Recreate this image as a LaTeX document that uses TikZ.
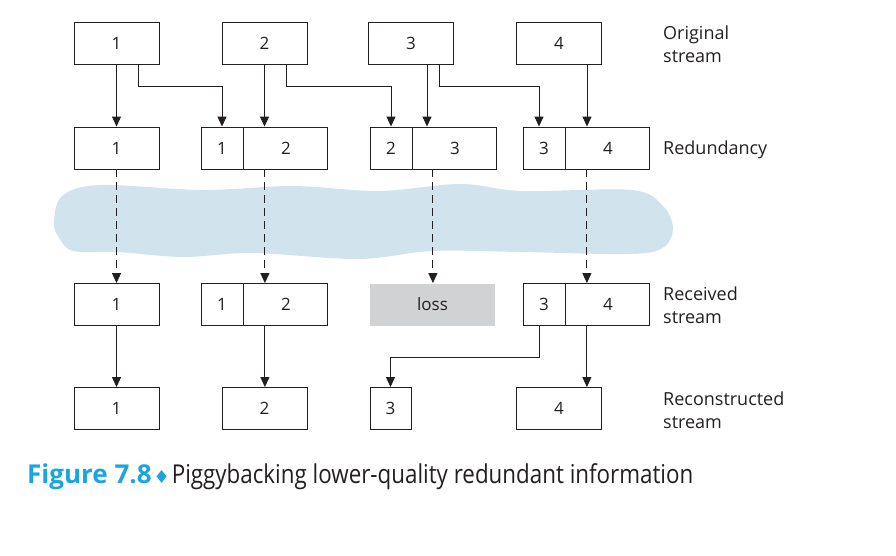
\documentclass[tikz,border=0pt]{standalone}
\usepackage{fontspec}
\setmainfont{Open Sans}
\newfontfamily\capfont[FakeStretch=0.86]{Open Sans}
\newfontfamily\figfont{Open Sans}
\newfontfamily\symfont{DejaVu Sans}
\usetikzlibrary{arrows.meta}
\definecolor{cloudblue}{HTML}{D1E3EC}
\definecolor{lossgray}{HTML}{D1D2D4}
\definecolor{figcyan}{HTML}{1BA5E0}
\definecolor{ink}{HTML}{231F20}
\begin{document}
\begin{tikzpicture}[x=1pt,y=-1pt,
  box/.style={draw=ink, line width=0.9pt, minimum height=42pt, inner sep=0pt,
    font=\fontsize{17}{20}\selectfont, text=ink},
  wide/.style={box, minimum width=85pt},
  half/.style={box, minimum width=84pt},
  small/.style={box, minimum width=42pt},
  lossbox/.style={box, draw=none, fill=lossgray, minimum width=125pt},
  arr/.style={draw=ink, line width=0.9pt, -{Triangle[length=10pt,width=9pt]}},
  darr/.style={arr, dash pattern=on 8pt off 5pt},
  lbl/.style={anchor=west, align=left, inner sep=0pt, text=ink,
    font=\fontsize{18}{23}\selectfont}
]
\useasboundingbox (0,0) rectangle (896,555);

% cloud
\fill[cloudblue] plot[smooth cycle, tension=0.55] coordinates {
  (54,222) (62,196) (100,185) (203,190) (293,186) (379,191) (460,184)
  (522,191) (632,190) (663,206) (673,228) (664,247) (632,254) (522,252)
  (432,251) (358,259) (252,253) (183,257) (117,252) (73,251) (58,236)};

% original stream
\node[wide] (o1) at (116.5,43) {1};
\node[wide] (o2) at (264.5,43) {2};
\node[wide] (o3) at (411,43) {3};
\node[wide] (o4) at (559,43) {4};

% redundancy
\node[wide] (r1) at (116.5,148) {1};
\node[small] (r2a) at (222,148) {1};
\node[half, anchor=west] (r2b) at (r2a.east) {2};
\node[small] (r3a) at (391,148) {2};
\node[half, anchor=west] (r3b) at (r3a.east) {3};
\node[small] (r4a) at (544,148) {3};
\node[half, anchor=west] (r4b) at (r4a.east) {4};

% received
\node[wide] (v1) at (116.5,304.5) {1};
\node[small] (v2a) at (222,304.5) {1};
\node[half, anchor=west] (v2b) at (v2a.east) {2};
\node[lossbox] (loss) at (432.5,304.5) {loss};
\node[small] (v4a) at (544,304.5) {3};
\node[half, anchor=west] (v4b) at (v4a.east) {4};

% reconstructed
\node[wide] (c1) at (116.5,408.5) {1};
\node[wide] (c2) at (264.5,408.5) {2};
\node[box, minimum width=41pt] (c3) at (390.5,408.5) {3};
\node[wide] (c4) at (559,408.5) {4};

% original -> redundancy
\draw[arr] (o1.south) -- (o1.south |- r1.north);
\draw[arr] ([xshift=21.5pt]o1.south) -- ++(0,22) -| (r2a.north);
\draw[arr] (o2.south) -- (o2.south |- r2b.north);
\draw[arr] ([xshift=21.5pt]o2.south) -- ++(0,22) -| (r3a.north);
\draw[arr] ([xshift=16pt]o3.south) -- ([xshift=16pt]o3.south |- r3b.north);
\draw[arr] ([xshift=28pt]o3.south) -- ++(0,22) -| ([xshift=-5pt]r4a.north);
\draw[arr] ([xshift=28pt]o4.south) -- ([xshift=28pt]o4.south |- r4b.north);

% network (dashed)
\draw[darr] (r1.south) -- (r1.south |- v1.north);
\draw[darr] ([xshift=-21pt]r2b.south) -- ([xshift=-21pt]r2b.south |- v2b.north);
\draw[darr] ([xshift=-22pt]r3b.south) -- ([xshift=-22pt]r3b.south |- loss.north);
\draw[darr] ([xshift=-21pt]r4b.south) -- ([xshift=-21pt]r4b.south |- v4b.north);

% received -> reconstructed
\draw[arr] (v1.south) -- (v1.south |- c1.north);
\draw[arr] ([xshift=-21pt]v2b.south) -- ([xshift=-21pt]v2b.south |- c2.north);
\draw[arr] ([xshift=-5pt]v4a.south) -- ++(0,31) -| (c3.north);
\draw[arr] ([xshift=-21pt]v4b.south) -- ([xshift=-21pt]v4b.south |- c4.north);

% labels
\node[lbl] (l1) at (663,44.5) {Original\\stream};
\node[lbl] (l2) at (663,150) {Redundancy};
\node[lbl] (l3) at (663,305.5) {Received\\stream};
\node[lbl] (l4) at (663,410.5) {Reconstructed\\stream};

% caption
\node[anchor=west, inner sep=0pt, font=\fontsize{26}{30}\selectfont] (cap) at (27,477)
  {{\figfont\bfseries\color{figcyan}Figure 7.8}\hspace{2pt}{\color{figcyan}\symfont\fontsize{18}{20}\selectfont\char"2666}\hspace{2pt}{\capfont\color{ink}Piggybacking lower-quality redundant information}};
\end{tikzpicture}
\end{document}
